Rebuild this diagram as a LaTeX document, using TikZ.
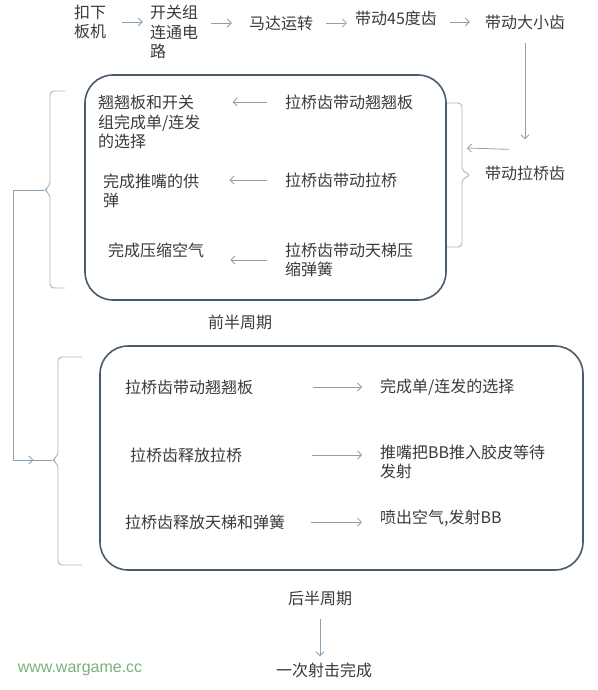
\documentclass[tikz,border=0pt]{standalone}
\usepackage{fontspec}
\setmainfont{Noto Sans CJK SC}
\newfontfamily\webfont{Liberation Sans}
\usetikzlibrary{arrows.meta,decorations.markings}
\definecolor{txt}{HTML}{3A3A3A}
\definecolor{arr}{HTML}{8CA0B3}
\definecolor{frame}{HTML}{4A5C6B}
\definecolor{brc}{HTML}{A3B5C4}
\definecolor{web}{HTML}{79B079}
\tikzset{
  >={Straight Barb[length=4pt,width=8pt]},
  lbl/.style={font=\fontsize{16}{19.5}\selectfont, text=txt, inner sep=2pt, align=left},
  flow/.style={->, draw=arr, line width=0.8pt},
  brk/.style={draw=brc, line width=0.9pt, rounded corners=4pt},
  half/.style={rectangle, draw=frame, line width=1.6pt, rounded corners=28pt}
}
\begin{document}
\begin{tikzpicture}[x=1pt,y=-1pt]
    \useasboundingbox (0,0) rectangle (597,690);

    % Top row
    \node[lbl] (trig) at (90,22) {扣下\\板机};
    \node[lbl] (circuit) at (174,32) {开关组\\连通电\\路};
    \node[lbl] (motor) at (281,23) {马达运转};
    \node[lbl] (gear45) at (396,18) {带动45度齿};
    \node[lbl] (gearbig) at (525,22) {带动大小齿};
    \node[lbl] (pullgear) at (525,173) {带动拉桥齿};

    \draw[flow, shorten <=14pt, shorten >=5pt] (trig.east) -- (trig.east -| circuit.west);
    \draw[flow, shorten <=11pt, shorten >=15pt] (motor.west -| circuit.east) -- (motor.west);
    \draw[flow, shorten <=11pt, shorten >=6pt] (motor.east) -- (motor.east -| gear45.west);
    \draw[flow, shorten <=11pt, shorten >=13pt] (gearbig.west -| gear45.east) -- (gearbig.west);
    \draw[flow, shorten <=11pt, shorten >=24pt] (gearbig.south) -- (pullgear.north);

    % Front half of the cycle
    \node[half, minimum width=361pt, minimum height=225pt] (front) at (265.5,187.5) {};
    \node[lbl, anchor=west] (res1) at (96,122) {翘翘板和开关\\组完成单/连发\\的选择};
    \node[lbl, anchor=west] (res2) at (101,191) {完成推嘴的供\\弹};
    \node[lbl, anchor=west] (res3) at (106,250) {完成压缩空气};
    \node[lbl, anchor=west] (pull1) at (283,102) {拉桥齿带动翘翘板};
    \node[lbl, anchor=west] (pull2) at (283,180) {拉桥齿带动拉桥};
    \node[lbl, anchor=west] (pull3) at (283,260) {拉桥齿带动天梯压\\缩弹簧};
    \node[lbl] (fronttag) at (240,322) {前半周期};

    \draw[flow, shorten <=16pt, shorten >=30pt] (pull1.west) -- (pull1.west -| res1.east);
    \draw[flow, shorten <=16pt, shorten >=28pt] (pull2.west) -- (pull2.west -| res2.east);
    \draw[flow, shorten <=16pt, shorten >=24pt] (pull3.west) -- (pull3.west -| res3.east);

    % Back half of the cycle
    \node[half, minimum width=483pt, minimum height=224pt] (back) at (341.5,458) {};
    \node[lbl, anchor=west] (cmd1) at (123,387) {拉桥齿带动翘翘板};
    \node[lbl, anchor=west] (cmd2) at (128,455) {拉桥齿释放拉桥};
    \node[lbl, anchor=west] (cmd3) at (123,522) {拉桥齿释放天梯和弹簧};
    \node[lbl, anchor=west] (out1) at (378,387) {完成单/连发的选择};
    \node[lbl, anchor=west] (out2) at (378,462) {推嘴把BB推入胶皮等待\\发射};
    \node[lbl, anchor=west] (out3) at (378,518) {喷出空气,发射BB};
    \node[lbl] (backtag) at (320,598) {后半周期};
    \node[lbl] (done) at (324,670) {一次射击完成};

    \draw[flow, shorten <=58pt, shorten >=16pt] (cmd1.east) -- (cmd1.east -| out1.west);
    \draw[flow, shorten <=68pt, shorten >=16pt] (cmd2.east) -- (cmd2.east -| out2.west);
    \draw[flow, shorten <=24pt, shorten >=16pt] (cmd3.east) -- (cmd3.east -| out3.west);
    \draw[flow, shorten <=11pt, shorten >=4pt] (backtag.south) -- (backtag.south |- done.north);

    % Braces
    \coordinate (ftip) at (44,190);
    \coordinate (rtip) at (471,175);
    \coordinate (btip) at (52,460);
    \coordinate (lturn) at (13,190);
    \coordinate (rin) at (467,148);
    \draw[brk] (65,91) -- (50,91) -- (50,186) -- (ftip) -- (50,194) -- (50,288) -- (65,288);
    \draw[brk] (447,103) -- (462,103) -- (462,171) -- (rtip) -- (462,179) -- (462,247) -- (447,247);
    \draw[brk] (82,357) -- (58,357) -- (58,456) -- (btip) -- (58,464) -- (58,565) -- (82,565);

    % Links to the braces
    \draw[flow] (pullgear.north west) ++(26,-14) -- (rin);
    \draw[draw=arr, line width=0.8pt, postaction={decorate},
      decoration={markings, mark=at position 0.945 with {\arrow{>}}}]
      (ftip) -- (lturn) |- (btip);

    % Watermark
    \node[font=\webfont\fontsize{16}{16}\selectfont, text=web] (site) at (80,670) {www.wargame.cc};

\end{tikzpicture}
\end{document}
